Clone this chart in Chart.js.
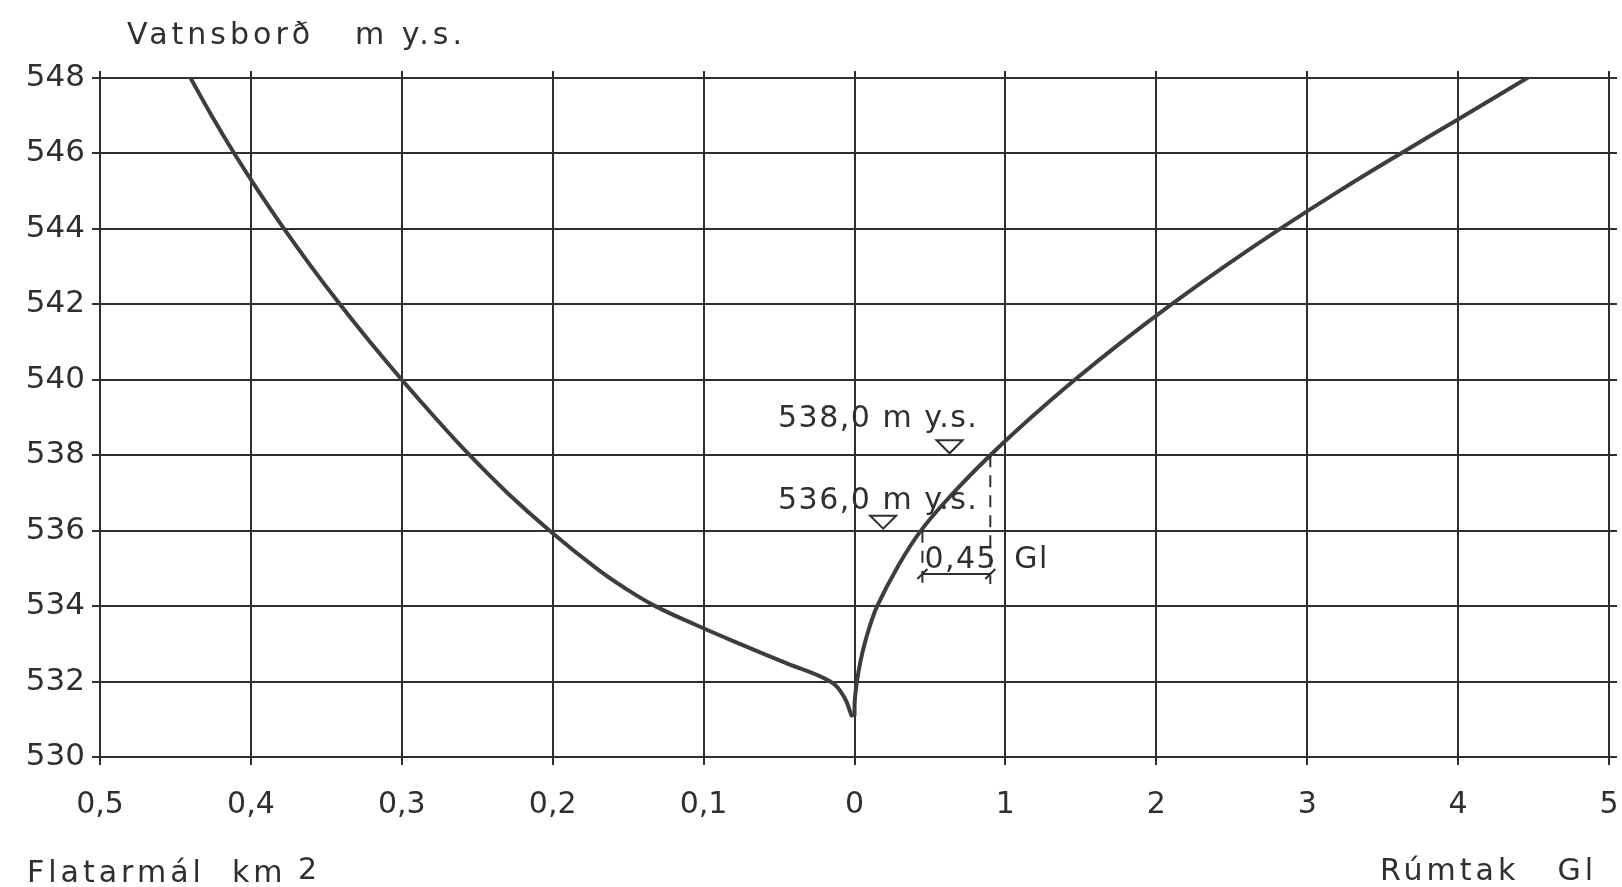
<!DOCTYPE html>
<html>
<head>
<meta charset="utf-8">
<script src="https://cdn.jsdelivr.net/npm/chart.js@4.4.1/dist/chart.umd.min.js"></script>
<style>
html, body { margin: 0; padding: 0; background: #fff; }
</style>
</head>
<body>
<canvas id="myChart_1" width="1622" height="887"></canvas>
<script>
// Flatarmál (km2) eftir vatnsborði
const LEVELS_AREA = [548, 547, 546, 545, 544, 543, 542, 541, 540, 539, 538, 537, 536, 535, 534.5, 534, 533.5, 533, 532.5, 532, 531.6, 531.1];
const AREA_KM2    = [0.440, 0.426, 0.411, 0.395, 0.378, 0.360, 0.341, 0.321, 0.300, 0.278, 0.255, 0.230, 0.202, 0.171, 0.153, 0.132, 0.105, 0.076, 0.046, 0.016, 0.007, 0.002];

// Rúmtak (Gl) eftir vatnsborði
const LEVELS_VOL = [531.1, 531.5, 532, 532.5, 533, 533.5, 534, 535, 536, 537, 538, 539, 540, 541, 542, 543, 544, 545, 546, 547, 548.1];
const VOLUME_GL  = [0, 0.002, 0.016, 0.038, 0.067, 0.104, 0.15, 0.28, 0.44, 0.655, 0.90, 1.17, 1.46, 1.77, 2.10, 2.45, 2.82, 3.21, 3.62, 4.04, 4.50];

const Y_TICKS = [530, 532, 534, 536, 538, 540, 542, 544, 546, 548];
const X_TICK_LABELS = ['0,5', '0,4', '0,3', '0,2', '0,1', '0', '1', '2', '3', '4', '5'];

const INK = '#2e302e';
const FONT = "'DejaVu Sans'";

const ctx_1 = document.getElementById('myChart_1');

const annotate = {
    id: 'annotate',
    afterDraw(chart) {
        const c = chart.ctx;
        const xv = chart.scales.xv;
        const y = chart.scales.y;
        c.save();
        c.fillStyle = INK;
        c.strokeStyle = INK;
        c.textBaseline = 'alphabetic';

        // axis titles
        c.font = '30px ' + FONT;
        c.letterSpacing = '4px';
        c.textAlign = 'left';
        c.fillText('Vatnsborð', 127, 44);
        c.fillText('m y.s.', 355, 44);
        c.fillText('Flatarmál  km', 27, 882);
        c.fillText('2', 298, 879);
        c.fillText('Rúmtak', 1380, 880);
        c.textAlign = 'right';
        c.fillText('Gl', 1597, 880);

        // water level marks
        c.letterSpacing = '1.5px';
        c.textAlign = 'left';
        c.fillText('538,0 m y.s.', 778, y.getPixelForValue(538) - 28);
        c.fillText('536,0 m y.s.', 778, y.getPixelForValue(536) - 22);

        c.lineWidth = 2;
        [[0.63, 538], [0.19, 536]].forEach(([v, l]) => {
            const px = xv.getPixelForValue(v), py = y.getPixelForValue(l) - 2;
            c.beginPath();
            c.moveTo(px, py);
            c.lineTo(px - 13, py - 13);
            c.lineTo(px + 13, py - 13);
            c.closePath();
            c.stroke();
        });

        // 0,45 Gl dimension
        const dimY = y.getPixelForValue(534.85);
        const xa = xv.getPixelForValue(0.45), xb = xv.getPixelForValue(0.90);
        c.setLineDash([12, 8]);
        c.beginPath();
        c.moveTo(xa, y.getPixelForValue(536));
        c.lineTo(xa, dimY + 10);
        c.moveTo(xb, y.getPixelForValue(538));
        c.lineTo(xb, dimY + 10);
        c.stroke();
        c.setLineDash([]);
        c.beginPath();
        c.moveTo(xa, dimY);
        c.lineTo(xb, dimY);
        [xa, xb].forEach(px => {
            c.moveTo(px - 5, dimY + 5);
            c.lineTo(px + 5, dimY - 5);
        });
        c.stroke();
        c.fillText('0,45', xa + 2, dimY - 6);
        c.fillText('Gl', xb + 24, dimY - 6);
        c.restore();
    }
};

const noPad = s => { s.paddingLeft = 0; s.paddingRight = 0; s.paddingTop = 0; s.paddingBottom = 0; };

window.myChart_1 = new Chart(ctx_1, {
    type: 'line',
    data: {
        datasets: [{
            label: 'Flatarmál',
            data: AREA_KM2.map((a, i) => ({x: a, y: LEVELS_AREA[i]})),
            xAxisID: 'xa',
            borderColor: '#3b3e3b',
            borderWidth: 4,
            borderCapStyle: 'round',
            pointRadius: 0,
            tension: 0.4
        }, {
            label: 'Rúmtak',
            data: VOLUME_GL.map((v, i) => ({x: v, y: LEVELS_VOL[i]})),
            xAxisID: 'xv',
            borderColor: '#3b3e3b',
            borderWidth: 4,
            borderCapStyle: 'round',
            pointRadius: 0,
            tension: 0.4
        }]
    },
    options: {
        responsive: false,
        animation: false,
        events: [],
        layout: { padding: 0 },
        plugins: {
            legend: { display: false },
            title: { display: false },
            tooltip: { enabled: false }
        },
        scales: {
            x: {
                type: 'linear',
                position: 'bottom',
                min: -5, max: 5,
                afterFit: s => { s.height = 130; noPad(s); },
                afterBuildTicks: s => { s.ticks = X_TICK_LABELS.map((t, i) => ({value: i - 5})); },
                ticks: {
                    callback: (v, i) => X_TICK_LABELS[i],
                    color: INK,
                    font: { family: 'DejaVu Sans', size: 30 },
                    padding: 22,
                    maxRotation: 0
                },
                grid: { color: INK, lineWidth: 2, tickLength: 8 },
                border: { color: INK, width: 2 }
            },
            xTop: {
                type: 'linear',
                position: 'top',
                min: -5, max: 5,
                afterFit: s => { s.height = 78; noPad(s); },
                afterBuildTicks: s => { s.ticks = X_TICK_LABELS.map((t, i) => ({value: i - 5})); },
                ticks: { display: false },
                grid: { color: INK, lineWidth: 2, tickLength: 7, drawOnChartArea: false },
                border: { color: INK, width: 2 }
            },
            xa: { type: 'linear', display: false, min: -0.5, max: 0.5, reverse: true },
            xv: { type: 'linear', display: false, min: -5, max: 5 },
            y: {
                type: 'linear',
                position: 'left',
                min: 530, max: 548,
                afterFit: s => { s.width = 100; noPad(s); },
                afterBuildTicks: s => { s.ticks = Y_TICKS.map(v => ({value: v})); },
                ticks: {
                    color: INK,
                    font: { family: 'DejaVu Sans', size: 31 },
                    padding: 7
                },
                grid: { color: INK, lineWidth: 2, tickLength: 8 },
                border: { color: INK, width: 2 }
            },
            yRight: {
                type: 'linear',
                position: 'right',
                min: 530, max: 548,
                afterFit: s => { s.width = 13; noPad(s); },
                afterBuildTicks: s => { s.ticks = Y_TICKS.map(v => ({value: v})); },
                ticks: { display: false },
                grid: { color: INK, lineWidth: 2, tickLength: 8, drawOnChartArea: false },
                border: { color: INK, width: 2 }
            }
        }
    },
    plugins: [annotate]
});
</script>
</body>
</html>
